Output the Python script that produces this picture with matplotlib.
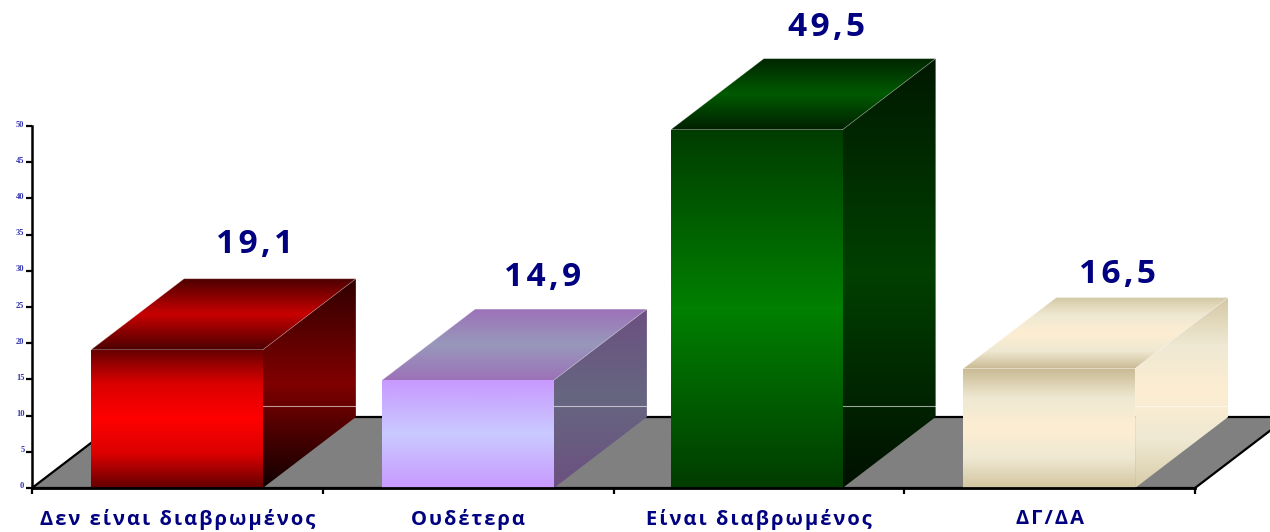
import numpy as np
import matplotlib
matplotlib.use('Agg')
import matplotlib.pyplot as plt
from matplotlib.colors import LinearSegmentedColormap
from matplotlib.patches import Polygon
from matplotlib.transforms import ScaledTranslation

# data
categories = ['Δεν είναι διαβρωμένος', 'Ουδέτερα', 'Είναι διαβρωμένος', 'ΔΓ/ΔΑ']
values = [19.1, 14.9, 49.5, 16.5]
value_labels = ['19,1', '14,9', '49,5', '16,5']
y_ticks = [0, 5, 10, 15, 20, 25, 30, 35, 40, 45, 50]

# gradient stops top -> middle -> bottom for each face of each bar
front_cols = [['#640000', '#dc0000', '#ff0000', '#dc0000', '#640000'],
              ['#c899ff', '#cacaff', '#c899ff'],
              ['#003c00', '#008000', '#003c00'],
              ['#c8b992', '#efe8d2', '#fdeed3', '#efe8d2', '#d2c5a0']]
top_cols = [['#4a0000', '#c80000', '#4a0000'],
            ['#9c72b8', '#9898bb', '#9c72b8'],
            ['#002400', '#005a00', '#001f00'],
            ['#d4c8a4', '#efe8d2', '#fdeed3', '#efe8d2', '#c8b992']]
side_cols = [['#300000', '#800000', '#100000'],
             ['#6c5080', '#666680', '#6c5080'],
             ['#001800', '#004000', '#001000'],
             ['#d4c8a4', '#efe8d2', '#fdeed3', '#efe8d2', '#d8cca8']]

# pixel layout of the reference
W, H = 1270, 532
x0_px, y0_px = 32, 488
x_unit = 290.75   # px per category
y_unit = 7.24     # px per value unit
bar_off = [0.203, 0.204, 0.197, 0.203]
bar_w = 0.591
dx = 93 / x_unit
dy = 71 / y_unit
grid_val = 11.3
hair = '\u200a'
text_fonts = ['Open Sans', 'DejaVu Sans']


def spaced(s, n=1):
    # the original text is letter spaced
    return (hair * n).join(s)


def face(ax, pts, cols):
    pts = np.array(pts)
    cmap = LinearSegmentedColormap.from_list('f', cols, N=512)
    grad = np.linspace(0, 1, 512).reshape(-1, 1)
    ext = [pts[:, 0].min(), pts[:, 0].max(), pts[:, 1].min(), pts[:, 1].max()]
    im = ax.imshow(grad, cmap=cmap, extent=ext, origin='upper', aspect='auto',
                   interpolation='bilinear', zorder=3)
    im.set_clip_path(Polygon(pts, closed=True, transform=ax.transData))


fig = plt.figure(figsize=(W / 100, H / 100), dpi=100)
ax = fig.add_axes([0, 0, 1, 1])

# floor
floor = Polygon([(0, 0), (4, 0), (4 + dx, dy), (dx, dy)], closed=True, fc='#808080',
                ec='black', lw=1.6, zorder=1)
ax.add_patch(floor)

for i, v in enumerate(values):
    l = i + bar_off[i]
    r = l + bar_w
    face(ax, [(l, 0), (r, 0), (r, v), (l, v)], front_cols[i])
    face(ax, [(l, v), (r, v), (r + dx, v + dy), (l + dx, v + dy)], top_cols[i])
    face(ax, [(r, 0), (r + dx, dy), (r + dx, v + dy), (r, v)], side_cols[i])
    ax.plot([r, r + dx], [grid_val, grid_val], color='#ffffff', alpha=0.6, lw=0.8, zorder=4)
    ax.plot([r, r + dx], [v, v + dy], color='#ffffff', alpha=0.3, lw=0.6, zorder=4)
    ax.plot([l, l + dx, r + dx], [v, v + dy, v + dy], color='#ffffff', alpha=0.3, lw=0.6, zorder=4)

# value labels sit above the back of the box
lab_dx = [0.265, 0.257, 0.234, 0.234]
lab_dy = [4.75, 4.4, 4.35, 3.15]
for i, v in enumerate(values):
    ax.text(i + 0.5 + lab_dx[i], v + dy + lab_dy[i], spaced(value_labels[i], 1), color='#000080',
            fontsize=24, fontweight='bold', family=text_fonts, ha='center', va='center', zorder=5)

ax.set_xlim(-x0_px / x_unit, (W - x0_px) / x_unit)
ax.set_ylim((y0_px - H) / y_unit, y0_px / y_unit)

for s in ['top', 'right']:
    ax.spines[s].set_visible(False)
ax.patch.set_visible(False)
ax.spines['left'].set_position(('data', 0))
ax.spines['left'].set_bounds(0, 50)
ax.spines['bottom'].set_position(('data', 0))
ax.spines['bottom'].set_bounds(0, 4)
ax.spines['left'].set_linewidth(1.8)
ax.spines['bottom'].set_linewidth(2.0)
ax.spines['left'].set_zorder(6)
ax.spines['bottom'].set_zorder(6)

ax.set_yticks(y_ticks)
ax.set_yticklabels([str(t) for t in y_ticks], family='Liberation Serif', fontweight='bold',
                   fontsize=6, color='#3333b0', va='center')
ax.tick_params(axis='y', length=4, width=1.6, pad=1.5)
for t in ax.get_yticklabels():
    t.set_transform(t.get_transform() + ScaledTranslation(0, 1.5 / 100, fig.dpi_scale_trans))
ax.set_xticks(range(5))
ax.set_xticklabels([])
ax.tick_params(axis='x', which='major', length=4.5, width=1.6)
ax.set_xticks(np.arange(4) + 0.5, [spaced(c) for c in categories], minor=True)
ax.tick_params(axis='x', which='minor', length=0, pad=15, labelsize=14.5, labelcolor='#000080')
for t in ax.get_xticklabels(minor=True):
    t.set_fontweight('bold')
    t.set_family(text_fonts)

fig.savefig('out.png', dpi=100)
